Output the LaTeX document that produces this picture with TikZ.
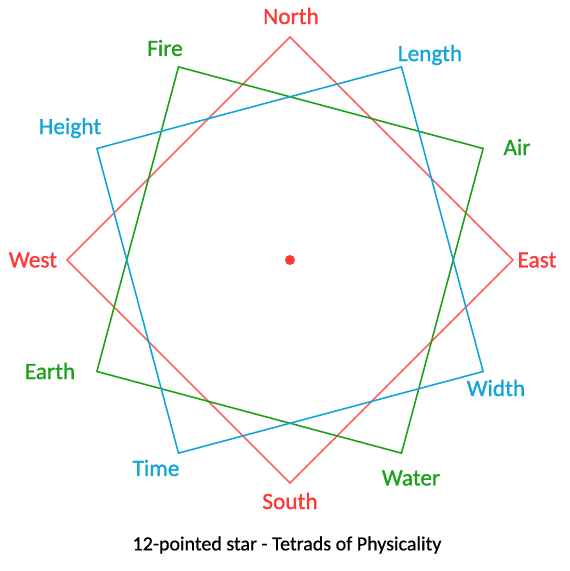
\documentclass[tikz,border=0pt]{standalone}
\usepackage{fontspec}
\setmainfont{Carlito}
\newfontfamily\pointfont[FakeBold=1.2]{Carlito}
\newfontfamily\captionfont[FakeBold=0.6]{Carlito}
\definecolor{redline}{RGB}{255,95,95}
\definecolor{redtext}{RGB}{255,55,55}
\definecolor{greenline}{RGB}{30,160,30}
\definecolor{bluetext}{RGB}{20,165,215}
\tikzset{
  point/.style={font=\pointfont\fontsize{23.3}{27}\selectfont, inner sep=0pt},
  side/.style={line width=1.6pt, line join=miter}
}
\begin{document}
\begin{tikzpicture}[x=1pt, y=1pt]
    \useasboundingbox (-290,-311) rectangle (280,260);

    % corners of the three squares
    \coordinate (north) at (90:223);
    \coordinate (east)  at (0:223);
    \coordinate (south) at (270:223);
    \coordinate (west)  at (180:223);

    \coordinate (fire)  at (120:223);
    \coordinate (air)   at (30:223);
    \coordinate (water) at (300:223);
    \coordinate (earth) at (210:223);

    \coordinate (length) at (60:223);
    \coordinate (width)  at (330:223);
    \coordinate (time)   at (240:223);
    \coordinate (height) at (150:223);

    \draw[side, redline] (north) -- (east) -- (south) -- (west) -- cycle;
    \draw[side, greenline] (fire) -- (air) -- (water) -- (earth) -- cycle;
    \draw[side, bluetext] (length) -- (width) -- (time) -- (height) -- cycle;

    \node[circle, fill=redtext, inner sep=0pt, minimum size=10pt] (centre) at (0,0) {};

    \node[point, text=redtext] (northlabel) at (1,244) {North};
    \node[point, text=redtext] (eastlabel)  at (247,0) {East};
    \node[point, text=redtext] (southlabel) at (0,-241) {South};
    \node[point, text=redtext] (westlabel)  at (-257,0) {West};

    \node[point, text=greenline] (firelabel)  at (-125,212) {Fire};
    \node[point, text=greenline] (airlabel)   at (227,113) {Air};
    \node[point, text=greenline] (waterlabel) at (121,-218) {Water};
    \node[point, text=greenline] (earthlabel) at (-240,-111) {Earth};

    \node[point, text=bluetext] (lengthlabel) at (140,205) {Length};
    \node[point, text=bluetext] (widthlabel)  at (206,-128) {Width};
    \node[point, text=bluetext] (timelabel)   at (-134,-208) {Time};
    \node[point, text=bluetext] (heightlabel) at (-220,132) {Height};

    \node[font=\captionfont\fontsize{20}{24}\selectfont, inner sep=0pt] (caption) at (-3,-285) {12-pointed star - Tetrads of Physicality};
\end{tikzpicture}
\end{document}
